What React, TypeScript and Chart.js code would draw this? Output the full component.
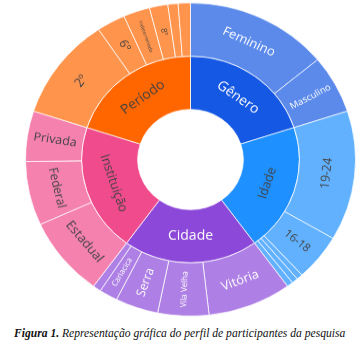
import React, { useEffect, useRef } from "react";
import { Chart, ArcElement, DoughnutController } from "chart.js";

Chart.register(ArcElement, DoughnutController);

// ---- data ----
const groups = ["Gênero", "Idade", "Cidade", "Instituição", "Período"];
const groupTotals = [100, 100, 100, 100, 100];

const generoLabels = ["Feminino", "Masculino"];
const generoValues = [70, 30];

const idadeLabels = ["19-24", "16-18", "25-30", "31-40", "41+"];
const idadeValues = [67, 24, 3, 3, 3];

const cidadeLabels = ["Vitória", "Vila Velha", "Serra", "Cariacica", "Outras"];
const cidadeValues = [41, 25, 21, 9, 4];

const instituicaoLabels = ["Estadual", "Federal", "Privada"];
const instituicaoValues = [41, 33, 26];

const periodoLabels = ["2º", "6º", "Indeterminado", "8º", "4º", "10º"];
const periodoValues = [53, 14, 13, 9, 5, 6];

const caption = "Representação gráfica do perfil de participantes da pesquisa";

// ---- styles ----
const groupColors = ["#1558e3", "#1e90ff", "#8c48d8", "#f04b8c", "#ff6600"];
const leafColors = ["#5b8aeb", "#61b1ff", "#ae7fe4", "#f581ae", "#ff944c"];

const DARK = "#444";
const WHITE = "#ffffff";
type LS = { o: "t" | "r"; s: number; c: string } | null;

const groupLabelStyles: LS[] = [
  { o: "t", s: 14, c: WHITE },
  { o: "t", s: 13, c: DARK },
  { o: "t", s: 14, c: WHITE },
  { o: "t", s: 13, c: DARK },
  { o: "t", s: 14, c: DARK },
];
const generoStyles: LS[] = [
  { o: "t", s: 13, c: WHITE },
  { o: "r", s: 9.5, c: WHITE },
];
const idadeStyles: LS[] = [
  { o: "t", s: 12.5, c: DARK },
  { o: "r", s: 11.5, c: DARK },
  null,
  null,
  null,
];
const cidadeStyles: LS[] = [
  { o: "t", s: 13, c: WHITE },
  { o: "r", s: 8.5, c: WHITE },
  { o: "r", s: 12.5, c: WHITE },
  { o: "r", s: 8, c: WHITE },
  null,
];
const instituicaoStyles: LS[] = [
  { o: "t", s: 13, c: DARK },
  { o: "t", s: 12.5, c: DARK },
  { o: "r", s: 12.5, c: DARK },
];
const periodoStyles: LS[] = [
  { o: "t", s: 13, c: DARK },
  { o: "r", s: 12, c: DARK },
  { o: "r", s: 5, c: DARK },
  { o: "r", s: 8, c: DARK },
  null,
  null,
];

const leafSets = [
  { labels: generoLabels, values: generoValues, styles: generoStyles },
  { labels: idadeLabels, values: idadeValues, styles: idadeStyles },
  { labels: cidadeLabels, values: cidadeValues, styles: cidadeStyles },
  { labels: instituicaoLabels, values: instituicaoValues, styles: instituicaoStyles },
  { labels: periodoLabels, values: periodoValues, styles: periodoStyles },
];

const labelPlugin = {
  id: "sunLabels",
  afterDatasetsDraw(chart: any) {
    const ctx = chart.ctx;
    chart.data.datasets.forEach((ds: any, di: number) => {
      const meta = chart.getDatasetMeta(di);
      meta.data.forEach((arc: any, i: number) => {
        const st = ds.labelStyles[i];
        if (!st) return;
        const p = arc.getProps(["x", "y", "startAngle", "endAngle", "innerRadius", "outerRadius"], true);
        const mid = (p.startAngle + p.endAngle) / 2;
        const r = (p.innerRadius + p.outerRadius) / 2;
        const px = p.x + Math.cos(mid) * r;
        const py = p.y + Math.sin(mid) * r;
        let rot = st.o === "t" ? mid + Math.PI / 2 : mid;
        while (rot > Math.PI / 2 + 1e-6) rot -= Math.PI;
        while (rot <= -Math.PI / 2 - 1e-6) rot += Math.PI;
        ctx.save();
        ctx.translate(px, py);
        ctx.rotate(rot);
        ctx.font = `${st.s}px "Open Sans", sans-serif`;
        ctx.fillStyle = st.c;
        ctx.textAlign = "center";
        ctx.textBaseline = "middle";
        ctx.fillText(ds.sliceLabels[i], 0, 0);
        ctx.restore();
      });
    });
  },
};

export default function App() {
  const ref = useRef<HTMLCanvasElement | null>(null);

  useEffect(() => {
    if (!ref.current) return;
    const outerLabels: string[] = [];
    const outerValues: number[] = [];
    const outerColors: string[] = [];
    const outerStyles: LS[] = [];
    leafSets.forEach((g, gi) => {
      g.labels.forEach((l, i) => {
        outerLabels.push(l);
        outerValues.push(g.values[i]);
        outerColors.push(leafColors[gi]);
        outerStyles.push(g.styles[i]);
      });
    });
    const chart = new Chart(ref.current, {
      type: "doughnut",
      data: {
        labels: outerLabels,
        datasets: [
          {
            data: outerValues,
            backgroundColor: outerColors,
            borderColor: "rgba(255,255,255,0.75)",
            borderWidth: 1,
            sliceLabels: outerLabels,
            labelStyles: outerStyles,
          } as any,
          {
            data: groupTotals,
            backgroundColor: groupColors,
            borderColor: "rgba(255,255,255,0.75)",
            borderWidth: 1,
            sliceLabels: groups,
            labelStyles: groupLabelStyles,
          } as any,
        ],
      },
      options: {
        responsive: false,
        animation: false,
        cutout: "32%",
        layout: { padding: 0 },
        events: [],
        plugins: { legend: { display: false }, tooltip: { enabled: false } },
      } as any,
      plugins: [labelPlugin],
    });
    return () => chart.destroy();
  }, []);

  return (
    <div style={{ position: "absolute", left: 0, top: 0, width: 361, height: 346, background: "#fff", overflow: "hidden" }}>
      <div
        style={{
          position: "absolute",
          left: 25,
          top: -6,
          width: 331,
          height: 331,
          transform: "scaleY(0.949)",
          transformOrigin: "center center",
        }}
      >
        <canvas ref={ref} width={331} height={331} style={{ display: "block" }} />
      </div>
      <div
        style={{
          position: "absolute",
          left: 14,
          top: 327,
          whiteSpace: "nowrap",
          fontFamily: '"Liberation Serif", "Times New Roman", serif',
          fontStyle: "italic",
          fontSize: 11.6,
          lineHeight: "14px",
          color: "#111",
        }}
      >
        <b>Figura 1.</b> {caption}
      </div>
    </div>
  );
}
